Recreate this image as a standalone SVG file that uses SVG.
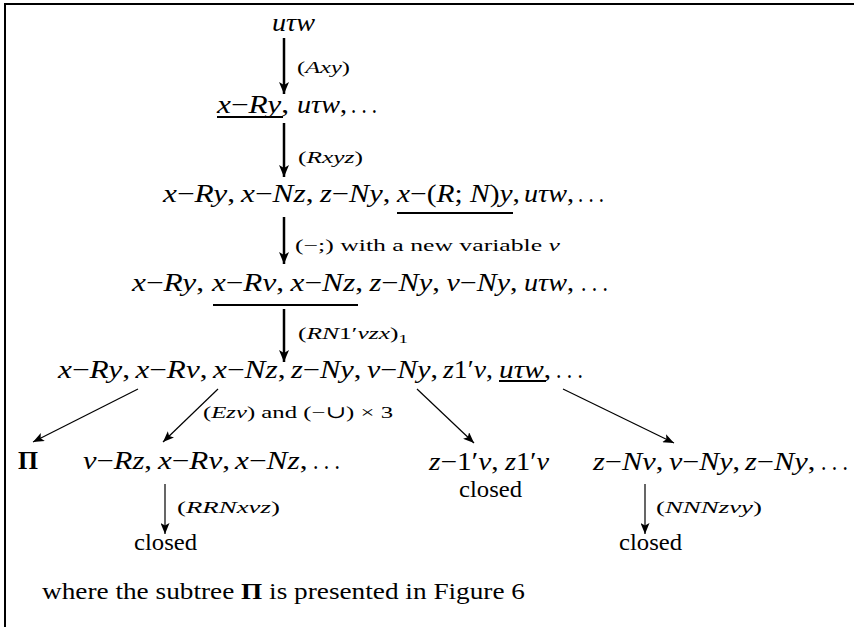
<svg xmlns="http://www.w3.org/2000/svg" width="854" height="627" viewBox="0 0 854 627">
<style>
.m{font-family:"Liberation Serif","DejaVu Serif",serif;font-size:25px;fill:#000}
.r{font-family:"Liberation Serif","DejaVu Serif",serif;font-size:24px;fill:#000}
.s{font-family:"Liberation Serif","DejaVu Serif",serif;font-size:17.5px;fill:#000}
.i{font-style:italic}
.b{font-weight:bold}
.thick{stroke:#000;stroke-width:2.5;fill:none}
.thin{stroke:#000;stroke-width:1.2;fill:none}
.ul{stroke:#000;stroke-width:2.2}
</style>
<defs>
<marker id="ah" markerUnits="userSpaceOnUse" markerWidth="14" markerHeight="10" refX="12" refY="5" orient="auto">
<path d="M0,0 L12,5 L0,10 L3,5 Z" fill="#000"/>
</marker>
<marker id="ahs" markerUnits="userSpaceOnUse" markerWidth="12" markerHeight="9" refX="11" refY="4.5" orient="auto">
<path d="M0,0 L11,4.5 L0,9 L2.5,4.5 Z" fill="#000"/>
</marker>
</defs>
<g id="frame">
<line x1="5" y1="4" x2="5" y2="627" stroke="#000" stroke-width="2"/>
<line x1="4" y1="4" x2="854" y2="4" stroke="#000" stroke-width="2"/>
</g>
<g id="connectors">
<line class="thick" x1="284" y1="38" x2="284" y2="94" marker-end="url(#ah)"/>
<line class="thick" x1="284" y1="123" x2="284" y2="177" marker-end="url(#ah)"/>
<line class="thick" x1="284" y1="217" x2="284" y2="264" marker-end="url(#ah)"/>
<line class="thick" x1="284" y1="309" x2="284" y2="362" marker-end="url(#ah)"/>
<line class="thin" x1="138" y1="389" x2="33" y2="442" marker-end="url(#ahs)"/>
<line class="thin" x1="218" y1="389" x2="163" y2="442" marker-end="url(#ahs)"/>
<line class="thin" x1="417" y1="389" x2="474" y2="443" marker-end="url(#ahs)"/>
<line class="thin" x1="563" y1="389" x2="674" y2="443" marker-end="url(#ahs)"/>
<line class="thin" x1="165" y1="484" x2="165" y2="534" stroke-width="1.5" marker-end="url(#ahs)"/>
<line class="thin" x1="645" y1="484" x2="645" y2="534" stroke-width="1.5" marker-end="url(#ahs)"/>
<text class="s" x="297" y="73" textLength="53" lengthAdjust="spacingAndGlyphs"><tspan>(</tspan><tspan class="i">Axy</tspan><tspan>)</tspan></text>
<text class="s" x="298" y="163" textLength="65" lengthAdjust="spacingAndGlyphs"><tspan>(</tspan><tspan class="i">Rxyz</tspan><tspan>)</tspan></text>
<text class="s" x="295" y="251" textLength="265" lengthAdjust="spacingAndGlyphs"><tspan>(−;) with a new variable </tspan><tspan class="i">v</tspan></text>
<text class="s" x="298" y="339" textLength="110" lengthAdjust="spacingAndGlyphs"><tspan>(</tspan><tspan class="i">RN</tspan><tspan>1′</tspan><tspan class="i">vzx</tspan><tspan>)</tspan><tspan font-size="13" dy="4">1</tspan></text>
<text class="s" x="203" y="418" textLength="190" lengthAdjust="spacingAndGlyphs"><tspan>(</tspan><tspan class="i">Ezv</tspan><tspan>) and (−∪) × 3</tspan></text>
<text class="s" x="177" y="513" textLength="103" lengthAdjust="spacingAndGlyphs"><tspan>(</tspan><tspan class="i">RRNxvz</tspan><tspan>)</tspan></text>
<text class="s" x="656" y="513" textLength="106" lengthAdjust="spacingAndGlyphs"><tspan>(</tspan><tspan class="i">NNNzvy</tspan><tspan>)</tspan></text>
</g>
<g id="n1">
<text class="m i" x="272" y="31" textLength="43" lengthAdjust="spacingAndGlyphs">uτw</text>
</g>
<g id="n2">
<text class="m" x="217" y="113" textLength="72" lengthAdjust="spacingAndGlyphs"><tspan class="i">x</tspan>−<tspan class="i">Ry</tspan>,</text>
<text class="m" x="297" y="113" textLength="50" lengthAdjust="spacingAndGlyphs"><tspan class="i">uτw</tspan>,</text>
<text class="m" x="351" y="113" textLength="26" lengthAdjust="spacingAndGlyphs">. . .</text>
<line class="ul" x1="217" y1="117" x2="283" y2="117"/>
</g>
<g id="n3">
<text class="m" x="163" y="202" textLength="72" lengthAdjust="spacingAndGlyphs"><tspan class="i">x</tspan>−<tspan class="i">Ry</tspan>,</text>
<text class="m" x="241" y="202" textLength="72.5" lengthAdjust="spacingAndGlyphs"><tspan class="i">x</tspan>−<tspan class="i">Nz</tspan>,</text>
<text class="m" x="320" y="202" textLength="70.4" lengthAdjust="spacingAndGlyphs"><tspan class="i">z</tspan>−<tspan class="i">Ny</tspan>,</text>
<text class="m" x="397" y="202" textLength="123" lengthAdjust="spacingAndGlyphs"><tspan class="i">x</tspan>−(<tspan class="i">R</tspan>; <tspan class="i">N</tspan>)<tspan class="i">y</tspan>,</text>
<text class="m" x="524" y="202" textLength="50" lengthAdjust="spacingAndGlyphs"><tspan class="i">uτw</tspan>,</text>
<text class="m" x="578" y="202" textLength="26" lengthAdjust="spacingAndGlyphs">. . .</text>
<line class="ul" x1="397" y1="213" x2="513" y2="213"/>
</g>
<g id="n4">
<text class="m" x="132" y="291" textLength="72" lengthAdjust="spacingAndGlyphs"><tspan class="i">x</tspan>−<tspan class="i">Ry</tspan>,</text>
<text class="m" x="212" y="291" textLength="72" lengthAdjust="spacingAndGlyphs"><tspan class="i">x</tspan>−<tspan class="i">Rv</tspan>,</text>
<text class="m" x="290.5" y="291" textLength="72.5" lengthAdjust="spacingAndGlyphs"><tspan class="i">x</tspan>−<tspan class="i">Nz</tspan>,</text>
<text class="m" x="369.5" y="291" textLength="70.4" lengthAdjust="spacingAndGlyphs"><tspan class="i">z</tspan>−<tspan class="i">Ny</tspan>,</text>
<text class="m" x="446.5" y="291" textLength="71" lengthAdjust="spacingAndGlyphs"><tspan class="i">v</tspan>−<tspan class="i">Ny</tspan>,</text>
<text class="m" x="524" y="291" textLength="50" lengthAdjust="spacingAndGlyphs"><tspan class="i">uτw</tspan>,</text>
<text class="m" x="581" y="291" textLength="27" lengthAdjust="spacingAndGlyphs">. . .</text>
<line class="ul" x1="213" y1="305" x2="358" y2="305"/>
</g>
<g id="n5">
<text class="m" x="58" y="378" textLength="72" lengthAdjust="spacingAndGlyphs"><tspan class="i">x</tspan>−<tspan class="i">Ry</tspan>,</text>
<text class="m" x="135.5" y="378" textLength="72" lengthAdjust="spacingAndGlyphs"><tspan class="i">x</tspan>−<tspan class="i">Rv</tspan>,</text>
<text class="m" x="213" y="378" textLength="72.5" lengthAdjust="spacingAndGlyphs"><tspan class="i">x</tspan>−<tspan class="i">Nz</tspan>,</text>
<text class="m" x="291" y="378" textLength="70.4" lengthAdjust="spacingAndGlyphs"><tspan class="i">z</tspan>−<tspan class="i">Ny</tspan>,</text>
<text class="m" x="367" y="378" textLength="71" lengthAdjust="spacingAndGlyphs"><tspan class="i">v</tspan>−<tspan class="i">Ny</tspan>,</text>
<text class="m" x="443" y="378" textLength="50" lengthAdjust="spacingAndGlyphs"><tspan class="i">z</tspan>1′<tspan class="i">v</tspan>,</text>
<text class="m" x="499" y="378" textLength="52" lengthAdjust="spacingAndGlyphs"><tspan class="i">uτw</tspan>,</text>
<text class="m" x="556" y="378" textLength="27" lengthAdjust="spacingAndGlyphs">. . .</text>
<line class="ul" x1="499" y1="381" x2="546" y2="381" stroke-width="1.6"/>
</g>
<g id="pi">
<text class="m b" x="18" y="469" textLength="20" lengthAdjust="spacingAndGlyphs">Π</text>
</g>
<g id="n6">
<text class="m" x="83" y="469" textLength="69" lengthAdjust="spacingAndGlyphs"><tspan class="i">v</tspan>−<tspan class="i">Rz</tspan>,</text>
<text class="m" x="158" y="469" textLength="72" lengthAdjust="spacingAndGlyphs"><tspan class="i">x</tspan>−<tspan class="i">Rv</tspan>,</text>
<text class="m" x="235" y="469" textLength="72.5" lengthAdjust="spacingAndGlyphs"><tspan class="i">x</tspan>−<tspan class="i">Nz</tspan>,</text>
<text class="m" x="313" y="469" textLength="27" lengthAdjust="spacingAndGlyphs">. . .</text>
</g>
<g id="n7">
<text class="m" x="429" y="470" textLength="69.6" lengthAdjust="spacingAndGlyphs"><tspan class="i">z</tspan>−1′<tspan class="i">v</tspan>,</text>
<text class="m" x="505" y="470" textLength="44" lengthAdjust="spacingAndGlyphs"><tspan class="i">z</tspan>1′<tspan class="i">v</tspan></text>
<text class="r" x="459" y="497" textLength="63" lengthAdjust="spacingAndGlyphs">closed</text>
</g>
<g id="n8">
<text class="m" x="593" y="470" textLength="70.3" lengthAdjust="spacingAndGlyphs"><tspan class="i">z</tspan>−<tspan class="i">Nv</tspan>,</text>
<text class="m" x="669" y="470" textLength="71" lengthAdjust="spacingAndGlyphs"><tspan class="i">v</tspan>−<tspan class="i">Ny</tspan>,</text>
<text class="m" x="745" y="470" textLength="70.4" lengthAdjust="spacingAndGlyphs"><tspan class="i">z</tspan>−<tspan class="i">Ny</tspan>,</text>
<text class="m" x="821" y="470" textLength="27" lengthAdjust="spacingAndGlyphs">. . .</text>
</g>
<g id="n9">
<text class="r" x="134" y="550" textLength="63" lengthAdjust="spacingAndGlyphs">closed</text>
</g>
<g id="n10">
<text class="r" x="619" y="550" textLength="63" lengthAdjust="spacingAndGlyphs">closed</text>
</g>
<g id="caption">
<text class="r" x="42" y="599" textLength="483" lengthAdjust="spacingAndGlyphs">where the subtree <tspan class="b">Π</tspan> is presented in Figure 6</text>
</g>
</svg>
